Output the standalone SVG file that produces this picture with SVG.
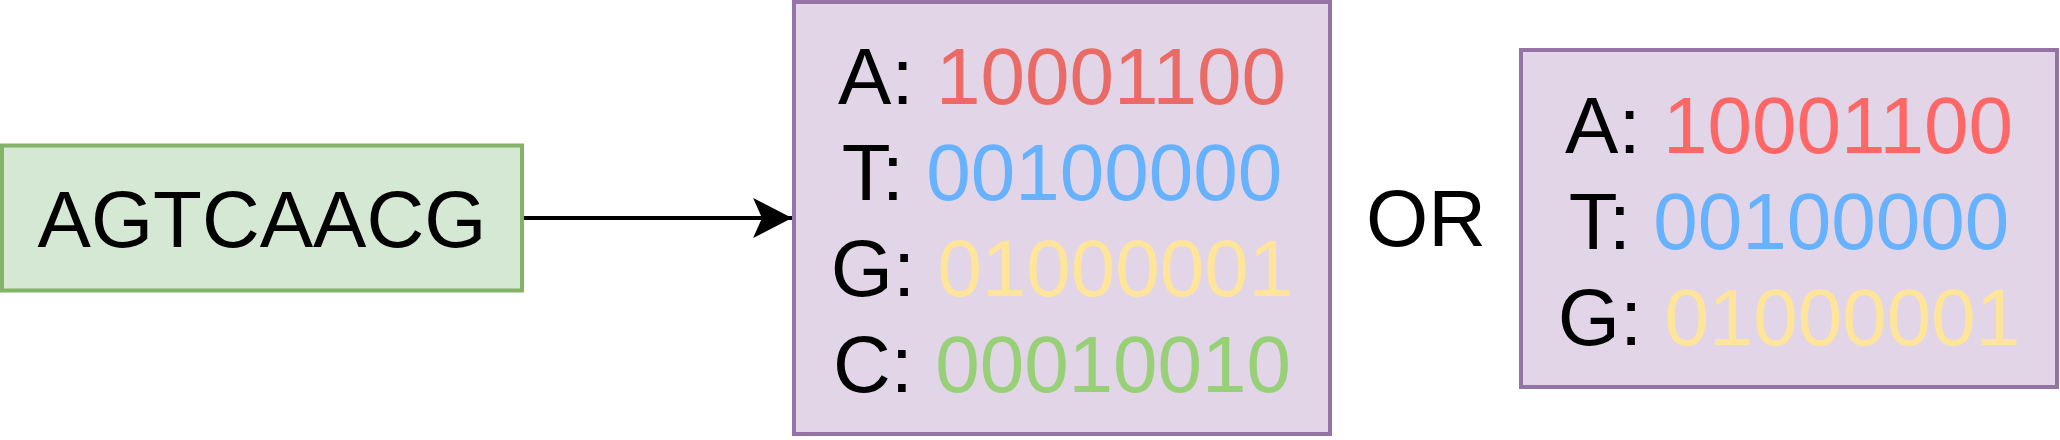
<svg xmlns="http://www.w3.org/2000/svg" width="2060" height="440" viewBox="0 0 2060 440">
  <style>
    .t { font-family: "Liberation Sans", Arial, sans-serif; font-size: 80px; text-anchor: middle; fill: #000000; }
    .green-box { fill: #d5e8d4; stroke: #82b366; stroke-width: 4; }
    .purple-box { fill: #e1d5e7; stroke: #9673a6; stroke-width: 4; }
    .red1 { fill: #EA6B66; }
    .red2 { fill: #FF6666; }
    .blue { fill: #66B2FF; }
    .yellow { fill: #FFE599; }
    .green { fill: #97D077; }
    .edge { stroke: #000000; stroke-width: 4; fill: none; }
  </style>
  <defs>
    <marker id="arrow" markerUnits="userSpaceOnUse" markerWidth="40" markerHeight="40" viewBox="0 0 35 36" refX="35" refY="18" orient="auto">
      <path d="M35,18 L0,0 L8,18 L0,36 Z" fill="#000000"/>
    </marker>
  </defs>
  <rect width="2060" height="440" fill="#ffffff"/>

  <g id="connectors">
    <line class="edge" x1="522" y1="218" x2="792" y2="218" marker-end="url(#arrow)"/>
  </g>

  <g id="sequence">
    <rect class="green-box" x="2" y="145.5" width="520" height="145"/>
    <text class="t" x="262" y="247">AGTCAACG</text>
  </g>

  <g id="encoding4">
    <rect class="purple-box" x="794" y="2" width="536" height="432"/>
    <text class="t" x="1062" y="104">A: <tspan class="red1">10001100</tspan></text>
    <text class="t" x="1062" y="200">T: <tspan class="blue">00100000</tspan></text>
    <text class="t" x="1062" y="296">G: <tspan class="yellow">01000001</tspan></text>
    <text class="t" x="1062" y="392">C: <tspan class="green">00010010</tspan></text>
  </g>

  <g id="or-label">
    <text class="t" x="1426" y="246">OR</text>
  </g>

  <g id="encoding3">
    <rect class="purple-box" x="1521" y="50" width="536" height="337"/>
    <text class="t" x="1789" y="153">A: <tspan class="red2">10001100</tspan></text>
    <text class="t" x="1789" y="249">T: <tspan class="blue">00100000</tspan></text>
    <text class="t" x="1789" y="345">G: <tspan class="yellow">01000001</tspan></text>
  </g>
</svg>
